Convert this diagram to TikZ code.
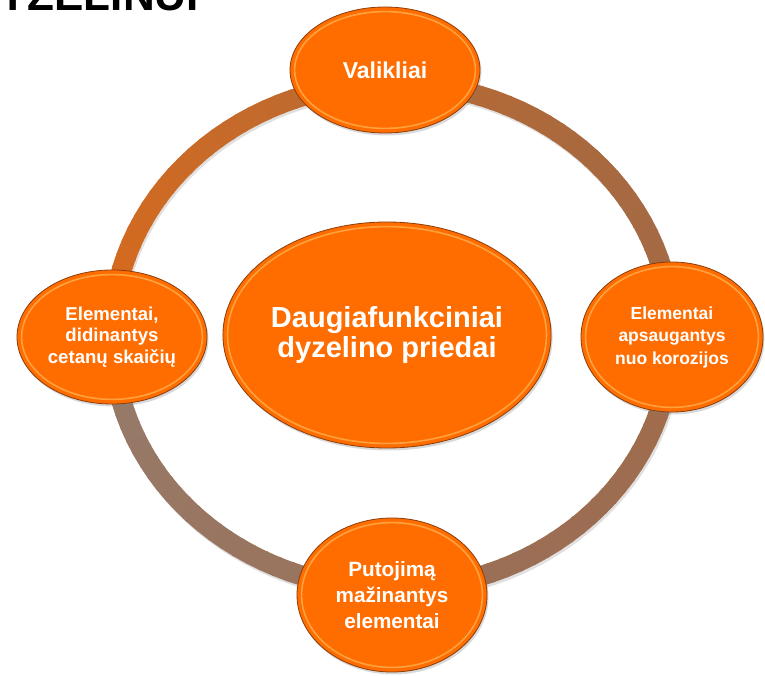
\documentclass[tikz,border=0pt]{standalone}
\usepackage{fontspec}
\setmainfont{Liberation Sans}
\usetikzlibrary{shapes.geometric,shadows,calc}

\definecolor{bubbleorange}{RGB}{255,109,0}
\definecolor{bubblerim}{RGB}{255,175,75}
\definecolor{bubbleedge}{RGB}{140,60,10}
\definecolor{ringA}{RGB}{217,106,28}
\definecolor{ringB}{RGB}{168,105,63}
\definecolor{ringC}{RGB}{156,109,82}
\definecolor{ringD}{RGB}{150,123,107}

\tikzset{
  bubble/.style={ellipse, inner sep=0pt, fill=bubbleorange, draw=bubbleedge, line width=.8pt,
    text=white, align=center, drop shadow={shadow xshift=1.5pt, shadow yshift=-2.5pt, opacity=.3}},
  hilite/.style={draw=bubblerim, line width=1.6pt, opacity=.8},
  ringpart/.style={line width=20pt},
}

\begin{document}
\begin{tikzpicture}[x=1pt,y=1pt]
\useasboundingbox (0,0) rectangle (765,675);
\begin{scope}
\clip (0,0) rectangle (765,675);
\node[anchor=base east, inner sep=0pt, font=\bfseries\fontsize{44}{44}\selectfont] (antraste) at (199,664) {DYZELINUI};
\end{scope}

% ring
\coordinate (centras) at (392,339);
\draw[line width=20pt, black, opacity=.12] ($(centras)+(1.5,-2.5)$) ellipse [x radius=280, y radius=253];
\foreach \a in {180,177,...,48} {
  \pgfmathsetmacro\p{100*(180-\a)/135}
  \draw[ringpart, ringB!\p!ringA] (centras) ++(\a:280 and 253) arc[start angle=\a, delta angle=-3.6, x radius=280, y radius=253];
}
\foreach \a in {45,42,...,-42} {
  \pgfmathsetmacro\p{100*(45-\a)/90}
  \draw[ringpart, ringC!\p!ringB] (centras) ++(\a:280 and 253) arc[start angle=\a, delta angle=-3.6, x radius=280, y radius=253];
}
\foreach \a in {-45,-48,...,-177} {
  \pgfmathsetmacro\p{100*(-45-\a)/135}
  \draw[ringpart, ringD!\p!ringC] (centras) ++(\a:280 and 253) arc[start angle=\a, delta angle=-3.6, x radius=280, y radius=253];
}

% bubbles
\node[bubble, minimum width=190pt, minimum height=126pt, font=\bfseries\fontsize{23}{26}\selectfont] (valikliai) at (385,605) {Valikliai};
\node[bubble, minimum width=190pt, minimum height=134pt, font=\bfseries\fontsize{18.6}{21.5}\selectfont] (cetanai) at (112,338) {Elementai,\\didinantys\\cetanų skaičių};
\node[bubble, minimum width=182pt, minimum height=150pt, font=\bfseries\fontsize{17.5}{22.5}\selectfont] (korozija) at (672,338) {Elementai\\apsaugantys\\nuo korozijos};
\node[bubble, minimum width=190pt, minimum height=154pt, font=\bfseries\fontsize{20.7}{26}\selectfont] (putojimas) at (392,80) {Putojimą\\mažinantys\\elementai};
\node[bubble, minimum width=266pt, minimum height=226pt, font=\bfseries\fontsize{29}{30}\selectfont] (priedai) at (387,340) {Daugiafunkciniai\\dyzelino priedai};

% glossy rims
\foreach \b in {valikliai,cetanai,korozija,putojimas,priedai}
  \draw[hilite] let \p1=($(\b.east)-(\b.center)$), \p2=($(\b.north)-(\b.center)$) in
    (\b.center) ellipse [x radius=\x1-5pt, y radius=\y2-5pt];
\end{tikzpicture}
\end{document}
